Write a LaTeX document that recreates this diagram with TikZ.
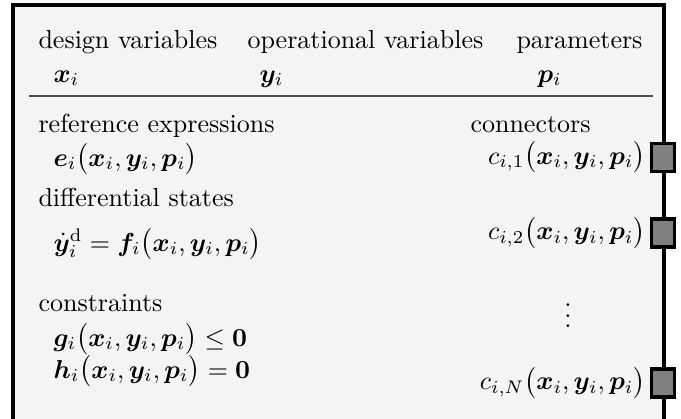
\documentclass[tikz,border=0pt]{standalone}
\usepackage{amsmath}
\usepackage{bm}
\usepackage{xcolor}
\usepackage{tikz}
\usetikzlibrary{positioning, calc}

\definecolor{boxbg}{HTML}{F4F4F4}
\definecolor{portgray}{HTML}{808080}

\newcommand{\argsi}{\bigl(\bm{x}_i, \bm{y}_i, \bm{p}_i\bigr)}

\begin{document}
\begin{tikzpicture}[x=0.3846pt, y=-0.3846pt,
      txt/.style={anchor=base west, inner sep=0pt},
      port/.style={draw, line width=1.2pt, fill=portgray, minimum width=8.8pt, minimum height=10.8pt, inner sep=0pt}]

      \useasboundingbox (0,0) rectangle (681,418);
      \clip (0,0) rectangle (681,418);

      % Model box
      \fill[boxbg] (13,5) rectangle (664,440);
      \draw[line width=1.2pt] (13,440) -- (13,5) -- (664,5) -- (664,440);

      % Header
      \node[txt] (dvar) at (38,49) {design variables};
      \node[txt] (ovar) at (247,49) {operational variables};
      \node[txt] (par) at (516,49) {parameters};
      \node[txt] (xi) at (53,82) {$\bm{x}_i$};
      \node[txt] (yi) at (259,82) {$\bm{y}_i$};
      \node[txt] (pi) at (537,82) {$\bm{p}_i$};
      \draw[black!70, line width=0.6pt] (29,96) -- (653,96);

      % Equations
      \node[txt] (refx) at (38,132) {reference expressions};
      \node[txt] (refe) at (53,166) {$\bm{e}_i\argsi$};
      \node[txt] (dsta) at (38,206) {differential states};
      \node[txt] (dsteq) at (53,251) {$\dot{\bm{y}}_i^{\mathrm{d}} = \bm{f}_i\argsi$};
      \node[txt] (cons) at (38,311) {constraints};
      \node[txt] (ineq) at (53,346) {$\bm{g}_i\argsi \leq \bm{0}$};
      \node[txt] (eq) at (53,378) {$\bm{h}_i\argsi = \bm{0}$};

      % Connectors
      \node[txt] (conn) at (470,132) {connectors};
      \node[port] (p1) at (663,157.5) {};
      \node[port] (p2) at (663,233) {};
      \node[port] (pN) at (663,383) {};
      \node[anchor=east, inner sep=0pt] (c1) at ($(p1.west)+(-4,0)$) {$c_{i,1}\argsi$};
      \node[anchor=east, inner sep=0pt] (c2) at ($(p2.west)+(-4,0)$) {$c_{i,2}\argsi$};
      \node[anchor=east, inner sep=0pt] (cN) at ($(pN.west)+(-4,0)$) {$c_{i,N}\argsi$};
      \node[inner sep=0pt] (dots) at (568,308) {$\vdots$};
    \end{tikzpicture}
\end{document}
